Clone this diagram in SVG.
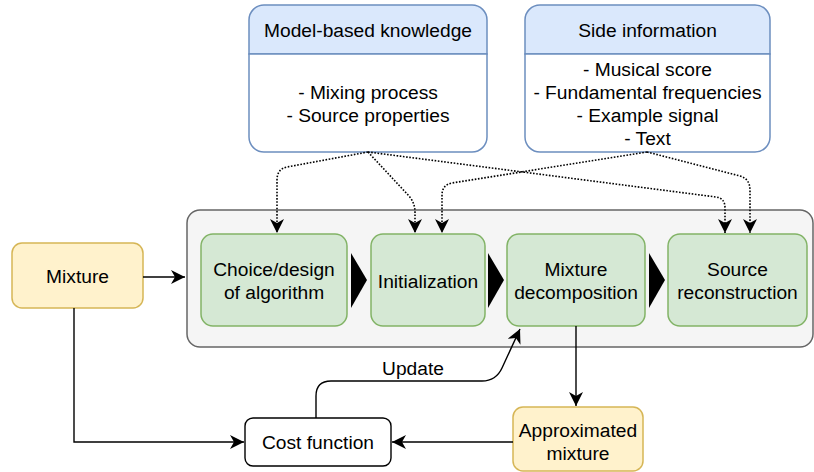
<svg xmlns="http://www.w3.org/2000/svg" width="814" height="472" viewBox="0 0 814 472">
<style>
text{font-family:"Liberation Sans",Arial,sans-serif;font-size:19.2px;fill:#000;text-anchor:middle}
.green{fill:#d5e8d4;stroke:#82b366;stroke-width:1.5}
.yellow{fill:#fff2cc;stroke:#d6b656;stroke-width:1.5}
.blue{stroke:#6c8ebf;stroke-width:1.5}
.edge{fill:none;stroke:#000;stroke-width:1.4}
.dot{fill:none;stroke:#000;stroke-width:1.6;stroke-dasharray:1.6 1.6}
.tri{fill:#000}
</style>
<defs>
<marker id="arr" markerUnits="userSpaceOnUse" markerWidth="16" markerHeight="14" refX="14" refY="7" orient="auto">
<path d="M0,0 L14,7 L0,14 L4,7 Z" fill="#000"/>
</marker>
</defs>
<g id="container"><rect x="187" y="210" width="626" height="137" rx="13" fill="#f5f5f5" stroke="#666666" stroke-width="1.5"/></g>
<g id="model">
<path class="blue" d="M249,54 V20 A15,15 0 0 1 264,5 H472 A15,15 0 0 1 487,20 V54 Z" fill="#dae8fc"/>
<path class="blue" d="M249,54 V137 A15,15 0 0 0 264,152 H472 A15,15 0 0 0 487,137 V54 Z" fill="#ffffff"/>
<text x="368" y="37">Model-based knowledge</text>
<text x="368" y="99">- Mixing process</text>
<text x="368" y="122">- Source properties</text>
</g>
<g id="side">
<path class="blue" d="M525,54 V20 A15,15 0 0 1 540,5 H755 A15,15 0 0 1 770,20 V54 Z" fill="#dae8fc"/>
<path class="blue" d="M525,54 V137 A15,15 0 0 0 540,152 H755 A15,15 0 0 0 770,137 V54 Z" fill="#ffffff"/>
<text x="647.5" y="37">Side information</text>
<text x="647.5" y="76">- Musical score</text>
<text x="647.5" y="99">- Fundamental frequencies</text>
<text x="647.5" y="122">- Example signal</text>
<text x="647.5" y="145">- Text</text>
</g>
<g id="choice"><rect class="green" x="201" y="234" width="146" height="92" rx="12"/><text x="274" y="276">Choice/design</text><text x="274" y="299">of algorithm</text></g>
<g id="init"><rect class="green" x="371" y="234" width="114" height="92" rx="12"/><text x="428" y="288">Initialization</text></g>
<g id="decomp"><rect class="green" x="507" y="234" width="138" height="92" rx="12"/><text x="576" y="276">Mixture</text><text x="576" y="299">decomposition</text></g>
<g id="recon"><rect class="green" x="668" y="234" width="139" height="92" rx="12"/><text x="737.5" y="276">Source</text><text x="737.5" y="299">reconstruction</text></g>
<g id="steps">
<path class="tri" d="M351,253 L367,280 L351,308 Z"/>
<path class="tri" d="M488,253 L504,280 L488,308 Z"/>
<path class="tri" d="M649,253 L665,280 L649,308 Z"/>
</g>
<g id="mixture"><rect class="yellow" x="12" y="243" width="131" height="65" rx="10"/><text x="77.5" y="283">Mixture</text></g>
<g id="cost"><rect x="245" y="418" width="146" height="48" rx="8" fill="#fff" stroke="#000" stroke-width="1.4"/><text x="318" y="449">Cost function</text></g>
<g id="approx"><rect class="yellow" x="513" y="407" width="130" height="64" rx="10"/><text x="578" y="437">Approximated</text><text x="578" y="460">mixture</text></g>
<g id="connectors">
<path class="edge" d="M143,277 H185" marker-end="url(#arr)"/>
<path class="edge" d="M74,308 V442 H244" marker-end="url(#arr)"/>
<path class="edge" d="M513,442 H392" marker-end="url(#arr)"/>
<path class="edge" d="M576,326 V406" marker-end="url(#arr)"/>
<path class="edge" d="M316,418 V396 Q316,381 331,381 H482 Q496,381 502,368 L520,329" marker-end="url(#arr)"/>
<text x="413" y="375">Update</text>
<path class="dot" d="M368,152 L287,167 Q277,169 277,180 V233" marker-end="url(#arr)"/>
<path class="dot" d="M368,152 L409,196 Q415,203 415,212 V233" marker-end="url(#arr)"/>
<path class="dot" d="M368,152 L716,197 Q725,198 725,208 V233" marker-end="url(#arr)"/>
<path class="dot" d="M647,152 L452,183 Q442,185 442,195 V233" marker-end="url(#arr)"/>
<path class="dot" d="M647,152 L740,176 Q750,179 750,190 V233" marker-end="url(#arr)"/>
</g>
</svg>
